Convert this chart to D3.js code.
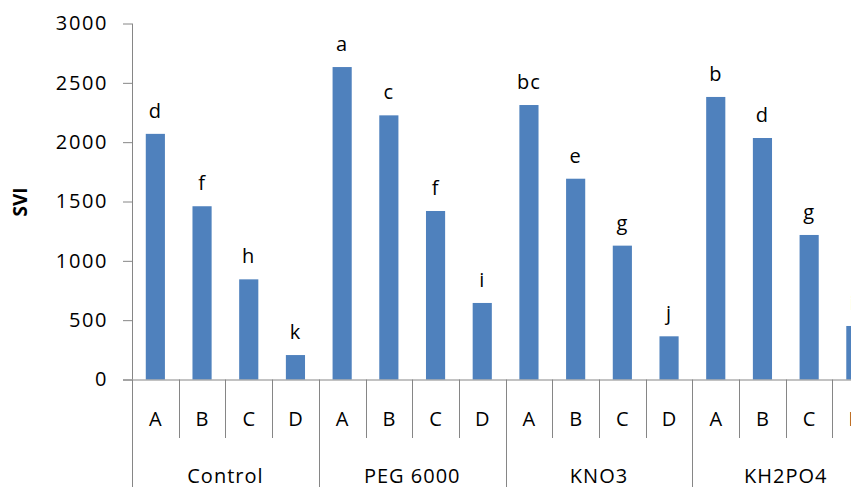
<!DOCTYPE html>
<html><head><meta charset="utf-8">
<script src="https://cdn.jsdelivr.net/npm/d3@7"></script>
<style>
html,body{margin:0;padding:0;background:#fff;overflow:hidden;}
text{font-family:"Open Sans",sans-serif;fill:#000;}
</style></head>
<body><svg id="c" width="851" height="487"></svg>
<script>
const groups = ["Control","PEG 6000","KNO3","KH2PO4"];
const levels = ["A","B","C","D"];
const values = [
  2070, 1460, 844, 206,
  2633, 2226, 1420, 645,
  2313, 1692, 1128, 364,
  2381, 2035, 1218, 451
];
const letters = [
  "d","f","h","k",
  "a","c","f","i",
  "bc","e","g","j",
  "b","d","g","ij"
];
const yTicks = [0,500,1000,1500,2000,2500,3000];

const svg = d3.select("#c");
const x0 = 132, x1 = 879.2, yTop = 23.5, yBase = 379.5;
const keys = [];
groups.forEach((g,gi)=>levels.forEach((l,li)=>keys.push(gi*4+li)));
const x = d3.scaleBand().domain(keys).range([x0,x1]).paddingInner(0.59).paddingOuter(0.295);
const step = x.step();
const y = d3.scaleLinear().domain([0,3000]).range([yBase,yTop]);
const axisColor = "#868686";

// y axis
const yAxis = d3.axisLeft(y).tickValues(yTicks).tickSize(9).tickPadding(15).tickFormat(d3.format("d"));
const ya = svg.append("g").attr("transform",`translate(${x0},0)`).call(yAxis);
ya.select(".domain").attr("stroke",axisColor).attr("d",`M0.5,${yTop}V${yBase}`);
ya.selectAll(".tick line").attr("stroke",axisColor);
ya.selectAll(".tick text").style("font-size","20px").style("letter-spacing","1.6px").attr("fill","#000").attr("font-family","Open Sans");

// y title
svg.append("text").attr("transform",`translate(27,202) rotate(-90)`)
  .attr("text-anchor","middle").style("font-size","19px").style("font-weight","bold").text("SVI");

// bars
svg.append("g").selectAll("rect").data(values).join("rect")
  .attr("x",(d,i)=>x(keys[i])).attr("width",x.bandwidth())
  .attr("y",d=>y(d)).attr("height",d=>yBase-y(d))
  .attr("fill","#4F81BD");

// significance letters
svg.append("g").selectAll("text").data(letters).join("text")
  .attr("x",(d,i)=>x(keys[i])+x.bandwidth()/2)
  .attr("y",(d,i)=>y(values[i])-16)
  .attr("text-anchor","middle").style("font-size","20px").style("letter-spacing","1px").text(d=>d);

// x axis line
svg.append("line").attr("x1",123).attr("x2",851).attr("y1",yBase+0.5).attr("y2",yBase+0.5).attr("stroke",axisColor);

// separators
keys.forEach((k,i)=>{
  const xs = Math.round(x(k) - x.paddingOuter()*step) + 0.5;
  const full = i % 4 === 0;
  svg.append("line").attr("x1",xs).attr("x2",xs).attr("y1",yBase).attr("y2",full?487:438).attr("stroke",axisColor);
});
{
  const xs = Math.round(x1)+0.5;
  svg.append("line").attr("x1",xs).attr("x2",xs).attr("y1",yBase).attr("y2",487).attr("stroke",axisColor);
}

// category labels
svg.append("g").selectAll("text").data(keys).join("text")
  .attr("x",k=>x(k)+x.bandwidth()/2).attr("y",426)
  .attr("text-anchor","middle").style("font-size","20px").text((k)=>levels[k%4]);

// group labels
svg.append("g").selectAll("text").data(groups).join("text")
  .attr("x",(g,gi)=>x0+step*(gi*4+2)).attr("y",483)
  .attr("text-anchor","middle").style("font-size","20px").style("letter-spacing","1px").text(d=>d);
</script></body></html>
